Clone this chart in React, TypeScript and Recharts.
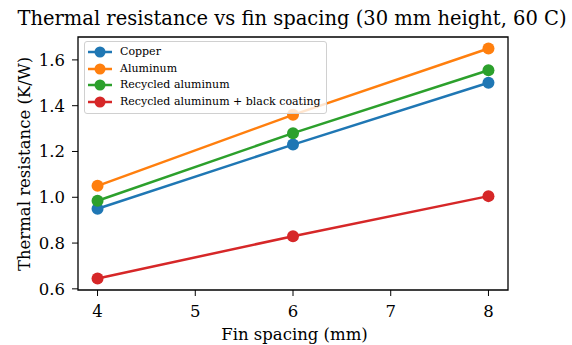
import { Line, LineChart, ReferenceArea, XAxis, YAxis } from "recharts";

const spacing = [4, 6, 8];
const copper = [0.95, 1.23, 1.5];
const aluminum = [1.05, 1.36, 1.65];
const recycled = [0.985, 1.28, 1.555];
const coated = [0.645, 0.83, 1.005];
const xTicks = [4, 5, 6, 7, 8];
const yTicks = [0.6, 0.8, 1.0, 1.2, 1.4, 1.6];
const xDomain = [3.8, 8.2];
const yDomain = [0.595, 1.7];

const series = [
  { key: "copper", name: "Copper", color: "#1f77b4", values: copper },
  { key: "aluminum", name: "Aluminum", color: "#ff7f0e", values: aluminum },
  { key: "recycled", name: "Recycled aluminum", color: "#2ca02c", values: recycled },
  { key: "coated", name: "Recycled aluminum + black coating", color: "#d62728", values: coated },
];

const data = spacing.map((s, i) => {
  const row: any = { spacing: s };
  series.forEach((sr) => (row[sr.key] = sr.values[i]));
  return row;
});

const font = "'DejaVu Serif', 'Liberation Serif', serif";

const XTick = ({ x, y, payload }: any) => (
  <text x={x} y={y} dy="0.71em" textAnchor="middle" fill="#000" style={{ fontFamily: font, fontSize: 16.5 }}>
    {payload.value}
  </text>
);

const YTick = ({ x, y, payload }: any) => (
  <text x={x} y={y} dy="0.355em" textAnchor="end" fill="#000" style={{ fontFamily: font, fontSize: 16.5 }}>
    {Number(payload.value).toFixed(1)}
  </text>
);

const LegendBox = () => (
  <div
    style={{
      position: "absolute",
      left: 84,
      top: 41,
      border: "1px solid #d0d0d0",
      borderRadius: 3,
      background: "rgba(255,255,255,0.8)",
      padding: "2px 5px 3px 3px",
      fontFamily: font,
      fontSize: 11,
      lineHeight: "16.5px",
      zIndex: 2,
    }}
  >
    {series.map((sr) => (
      <div key={sr.key} style={{ display: "flex", alignItems: "center" }}>
        <svg width={24} height={12} style={{ marginRight: 8 }}>
          <line x1={0} y1={6} x2={24} y2={6} stroke={sr.color} strokeWidth={2.5} />
          <circle cx={12} cy={6} r={5.5} fill={sr.color} />
        </svg>
        <span>{sr.name}</span>
      </div>
    ))}
  </div>
);

export default function App() {
  return (
    <div
      style={{
        position: "absolute",
        left: 0,
        top: 0,
        width: 572,
        height: 345,
        background: "#fff",
        fontFamily: font,
        color: "#000",
      }}
    >
      <div
        style={{
          position: "absolute",
          left: 0,
          width: 584,
          top: 7,
          textAlign: "center",
          fontFamily: font,
          fontSize: 19.5,
          whiteSpace: "nowrap",
        }}
      >
        Thermal resistance vs fin spacing (30 mm height, 60 C)
      </div>
      <div
        style={{
          position: "absolute",
          left: 24,
          top: 164,
          transform: "translate(-50%, -50%) rotate(-90deg)",
          whiteSpace: "nowrap",
          fontFamily: font,
          fontSize: 16.5,
        }}
      >
        Thermal resistance (K/W)
      </div>
      <div
        style={{
          position: "absolute",
          left: 0,
          width: 589,
          top: 325,
          textAlign: "center",
          fontFamily: font,
          fontSize: 16.5,
        }}
      >
        Fin spacing (mm)
      </div>
      <LineChart
        width={572}
        height={345}
        data={data}
        margin={{ top: 37, right: 64, bottom: 0, left: 0 }}
        style={{ position: "absolute", left: 0, top: 0, fontFamily: font }}
      >
        <XAxis
          dataKey="spacing"
          type="number"
          domain={xDomain}
          ticks={xTicks}
          allowDataOverflow
          height={55}
          tickSize={6}
          tickMargin={9}
          axisLine={false}
          tickLine={{ stroke: "#000" }}
          tick={<XTick />}
        />
        <YAxis
          type="number"
          domain={yDomain}
          ticks={yTicks}
          allowDataOverflow
          width={78}
          tickSize={6}
          tickMargin={7}
          axisLine={false}
          tickLine={{ stroke: "#000" }}
          tick={<YTick />}
        />
        <ReferenceArea
          x1={xDomain[0]}
          x2={xDomain[1]}
          y1={yDomain[0]}
          y2={yDomain[1]}
          fill="none"
          fillOpacity={0}
          stroke="#000"
          strokeWidth={1.3}
          ifOverflow="visible"
        />
        {series.map((sr) => (
          <Line
            key={sr.key}
            dataKey={sr.key}
            name={sr.name}
            stroke={sr.color}
            strokeWidth={2.5}
            dot={{ r: 6, fill: sr.color, stroke: sr.color, strokeWidth: 0 }}
            activeDot={false}
            isAnimationActive={false}
          />
        ))}
      </LineChart>
      <LegendBox />
    </div>
  );
}
